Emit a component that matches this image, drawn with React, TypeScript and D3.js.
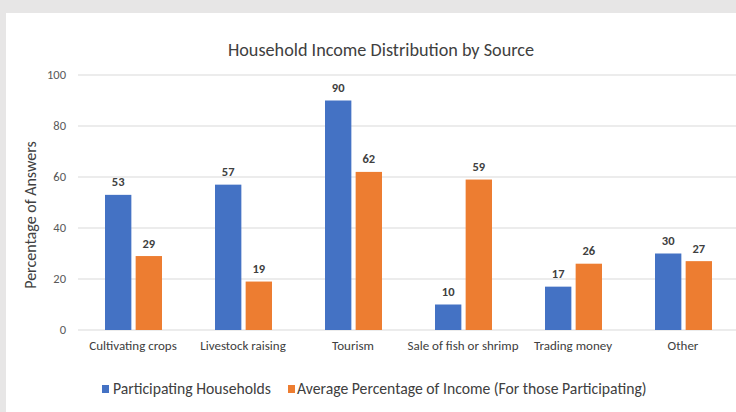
import React from "react";
import * as d3 from "d3";

const categories = ["Cultivating crops", "Livestock raising", "Tourism", "Sale of fish or shrimp", "Trading money", "Other"];
const seriesNames = ["Participating Households", "Average Percentage of Income (For those Participating)"];
const participating = [53, 57, 90, 10, 17, 30];
const avgIncome = [29, 19, 62, 59, 26, 27];
const yTicks = [0, 20, 40, 60, 80, 100];
const colors = ["#4472c4", "#ed7d31"];

const W = 736, H = 412;
const FONT = "Carlito, Lato, 'Open Sans', sans-serif";

export default function App() {
  const x = d3.scaleBand<string>().domain(categories).range([78, 738]);
  const y = d3.scaleLinear().domain([0, 100]).range([330, 75]);
  const inner = d3.scaleBand<number>().domain([0, 1]).range([-28, 29]).paddingInner(0.14);
  const series = [participating, avgIncome];
  return (
    <svg width={W} height={H} style={{ position: "fixed", left: 0, top: 0, fontFamily: FONT }}>
      <rect x={0} y={0} width={W} height={H} fill="#e7e6e6" />
      <rect x={6} y={13} width={W - 6} height={H - 13} fill="#ffffff" />
      <text x={381} y={56} textAnchor="middle" fontSize={18.2} fill="#404040">Household Income Distribution by Source</text>
      {yTicks.map(t => (
        <g key={t}>
          <line x1={78} x2={738} y1={y(t)} y2={y(t)} stroke="#d9d9d9" strokeWidth={1.2} />
          <text x={66} y={y(t)} dy="0.35em" textAnchor="end" fontSize={12.5} fill="#595959">{t}</text>
        </g>
      ))}
      <text transform={`translate(30,${215}) rotate(-90)`} textAnchor="middle" dy="0.35em" fontSize={16} fill="#404040">Percentage of Answers</text>
      {categories.map((c, i) => {
        const cx = (x(c) as number) + x.bandwidth() / 2;
        return (
          <g key={c}>
            {series.map((s, j) => {
              const bx = cx + (inner(j) as number);
              const bw = inner.bandwidth();
              return (
                <g key={j}>
                  <rect x={bx} y={y(s[i])} width={bw} height={y(0) - y(s[i])} fill={colors[j]} />
                  <text x={bx + bw / 2} y={y(s[i]) - 8.5} textAnchor="middle" fontSize={12.5} fontWeight="bold" fill="#404040">{s[i]}</text>
                </g>
              );
            })}
            <text x={cx} y={350} textAnchor="middle" fontSize={13} fill="#404040">{c}</text>
          </g>
        );
      })}
      <g>
        <rect x={102} y={385} width={7} height={8} fill={colors[0]} />
        <text x={113} y={389} dy="0.35em" fontSize={15.7} fill="#404040">{seriesNames[0]}</text>
        <rect x={288} y={385} width={7} height={8} fill={colors[1]} />
        <text x={297} y={389} dy="0.35em" fontSize={15.7} fill="#404040">{seriesNames[1]}</text>
      </g>
    </svg>
  );
}
